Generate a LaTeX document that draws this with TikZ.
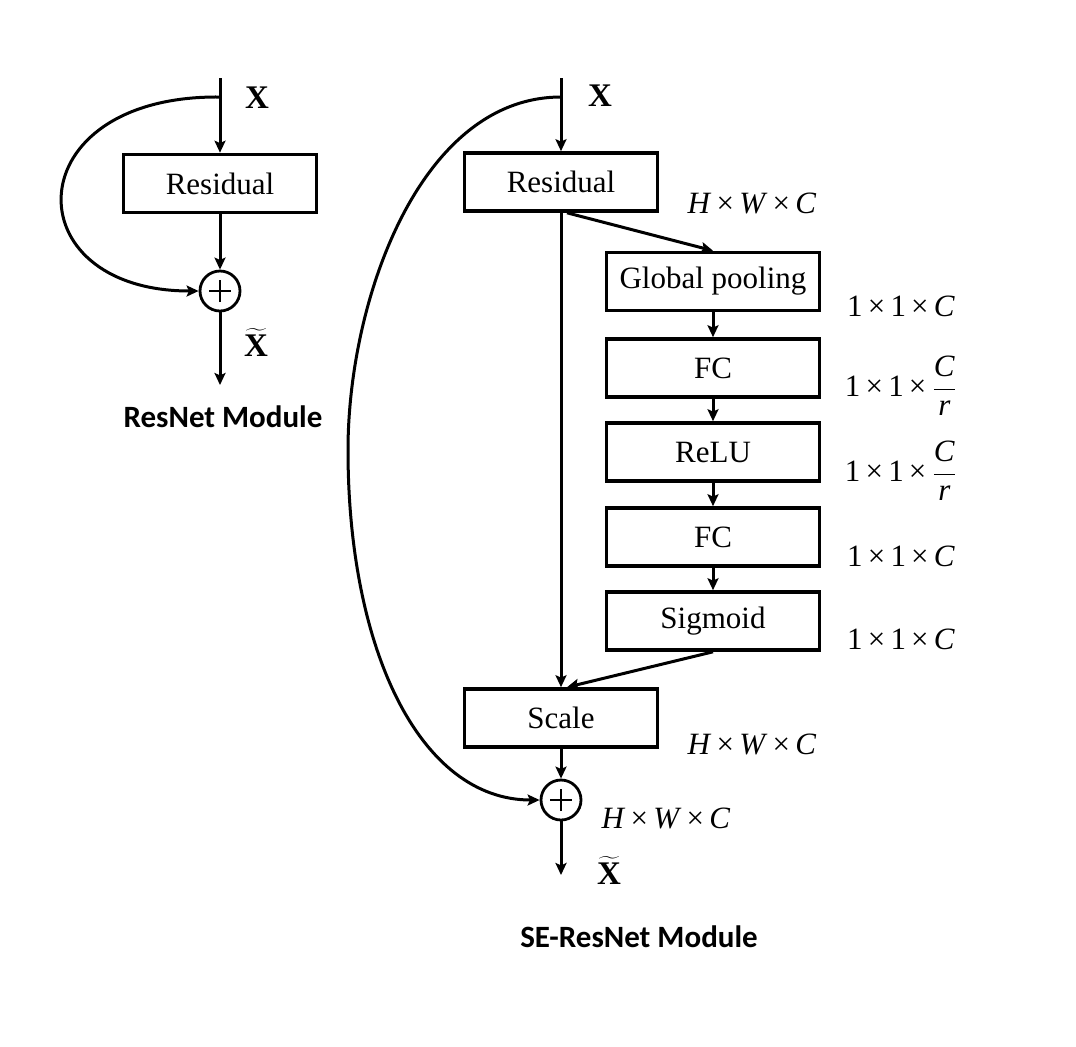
\documentclass[tikz,border=0pt]{standalone}
\usepackage{fontspec}
\setmainfont{Liberation Serif}
\newfontfamily\capfont{Carlito}
\usetikzlibrary{arrows.meta}
\usetikzlibrary{positioning}

\newcommand{\bxfont}{\fontsize{15.5}{18}\selectfont}
\newcommand{\hwc}{\textit{H}\,×\,\textit{W}\,×\,\textit{C}}
\newcommand{\oneC}{1\,×\,1\,×\,\textit{C}}
\newcommand{\oneCr}{1\,×\,1\,×\,${\displaystyle\frac{\mbox{\itshape C}}{\mbox{\itshape r}}}$}
\newcommand{\xt}{$\widetilde{\mbox{\bfseries X}}$}

\begin{document}
\begin{tikzpicture}[x=0.5pt,y=-0.5pt,
  box/.style={draw,line width=1.8pt,minimum width=96.5pt,minimum height=29pt,inner sep=0pt,font=\bxfont},
  widebox/.style={box,minimum width=106.5pt},
  sum/.style={draw,circle,line width=1.4pt,minimum size=20pt,inner sep=0pt,
    path picture={\draw[line width=0.7pt] ([xshift=-5.5pt]path picture bounding box.center) -- ([xshift=5.5pt]path picture bounding box.center);
      \draw[line width=0.7pt] ([yshift=-5.5pt]path picture bounding box.center) -- ([yshift=5.5pt]path picture bounding box.center);}},
  dim/.style={inner sep=0pt,font=\bxfont},
  flow/.style={line width=1.5pt,-{Stealth[length=6pt,width=5.5pt,inset=1.2pt]}},
  modtitle/.style={inner sep=0pt,font=\capfont\bfseries\bxfont},
  var/.style={inner sep=0pt,font=\fontsize{16.5}{18}\selectfont\bfseries}]
\useasboundingbox (0,0) rectangle (1076,1046);

%ResNet Module
\coordinate (inA) at (220,78);
\coordinate (splitA) at (220,97);
\node[box] (resA) at (220,183.5) {Residual};
\node[sum] (addA) at (220,291) {};
\coordinate (outA) at (220,385);

%Straight Lines
\draw[flow] (inA) -- (resA);
\draw[flow] (resA) -- (addA);
\draw[flow] (addA) -- (outA);
%Curve Lines
\draw[flow] (splitA) .. controls (15,95) and (12,291) .. (addA.west);

% Text Node
\node[var] (xA) at (257,98) {X};
% Text Node
\node[var] (xtA) at (256,342) {\xt};
% Text Node
\node[modtitle] (capA) at (223,417) {ResNet Module};

%SE-ResNet Module
\coordinate (inB) at (561,78);
\coordinate (splitB) at (561,97);
\node[box] (resB) at (561,182) {Residual};
\node[widebox] (pool) at (713,281.5) {Global pooling};
\node[widebox] (fcA) at (713,368) {FC};
\node[widebox] (relu) at (713,452) {ReLU};
\node[widebox] (fcB) at (713,537) {FC};
\node[widebox] (sig) at (713,621) {Sigmoid};
\node[box] (scale) at (561,718) {Scale};
\node[sum] (addB) at (561,800) {};
\coordinate (outB) at (561,875);

%Straight Lines
\draw[flow] (inB) -- (resB);
\draw[flow] (resB.south) -- (scale.north);
\draw[flow] ([xshift=3pt]resB.south) -- (pool.north);
\draw[flow] (pool) -- (fcA);
\draw[flow] (fcA) -- (relu);
\draw[flow] (relu) -- (fcB);
\draw[flow] (fcB) -- (sig);
\draw[flow] (sig.south) -- ([xshift=3pt]scale.north);
\draw[flow] (scale) -- (addB);
\draw[flow] (addB) -- (outB);
%Curve Lines
\draw[flow] (splitB) .. controls (420,97) and (348,300) .. (348,450) .. controls (348,650) and (420,800) .. (addB.west);

% Text Node
\node[var] (xB) at (600,96) {X};
% Text Node
\node[var] (xtB) at (609,870) {\xt};
% Text Node
\node[dim] (dRes) at (752,203) {\hwc};
\node[dim] (dPool) at (901,306) {\oneC};
\node[dim] (dFcA) at (901,386) {\oneCr};
\node[dim] (dRelu) at (901,471) {\oneCr};
\node[dim] (dFcB) at (901,556) {\oneC};
\node[dim] (dSig) at (901,639) {\oneC};
\node[dim] (dScale) at (752,744) {\hwc};
\node[dim] (dAdd) at (666,818) {\hwc};
% Text Node
\node[modtitle] (capB) at (639,937) {SE-ResNet Module};

\end{tikzpicture}
\end{document}
